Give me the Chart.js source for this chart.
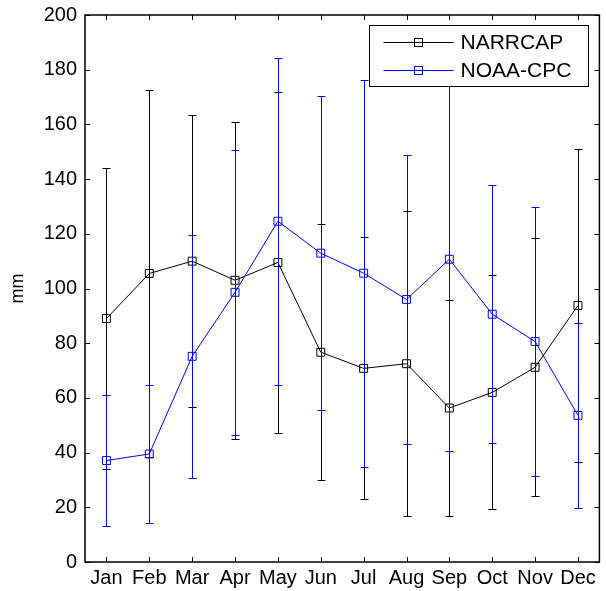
<!DOCTYPE html>
<html>
<head>
<meta charset="utf-8">
<script src="https://cdn.jsdelivr.net/npm/chart.js@4.4.0/dist/chart.umd.min.js"></script>
<style>
  html, body { margin: 0; padding: 0; background: #fff; }
  #wrap { width: 606px; height: 591px; }
</style>
</head>
<body>
<div id="wrap"><canvas id="chart" width="606" height="591"></canvas></div>
<script>
// ── Data ──────────────────────────────────────────────
const months = ['Jan', 'Feb', 'Mar', 'Apr', 'May', 'Jun', 'Jul', 'Aug', 'Sep', 'Oct', 'Nov', 'Dec'];

const narrcapMean = [89, 105.5, 110, 103, 109.5, 76.7, 70.8, 72.5, 56.3, 62, 71.2, 93.8];
const narrcapSd   = [55, 67, 53.3, 58, 62.3, 46.8, 47.9, 55.7, 39.6, 42.8, 47.2, 57.3];

const noaaMean = [37.1, 39.5, 75.2, 98.6, 124.6, 112.9, 105.6, 96, 110.7, 90.6, 80.6, 53.6];
const noaaSd   = [23.9, 25.3, 44.5, 52, 59.8, 57.4, 70.8, 52.8, 70.1, 47.2, 49.3, 33.9];

const yMin = 0, yMax = 200, yStep = 20;

Chart.defaults.font.family = "'Liberation Sans', Arial, sans-serif";
Chart.defaults.color = '#000';

// ── Axes box with inward ticks (MATLAB style) ─────────
const frameTicks = {
  id: 'frameTicks',
  beforeDatasetsDraw(chart) {
    const { ctx, chartArea: a, scales: { x, y } } = chart;
    const len = 5;
    ctx.save();
    ctx.strokeStyle = '#000';
    ctx.lineWidth = 1;
    ctx.beginPath();
    y.ticks.forEach(t => {
      const py = Math.round(y.getPixelForValue(t.value)) + 0.5;
      ctx.moveTo(a.left, py); ctx.lineTo(a.left + len, py);
      ctx.moveTo(a.right, py); ctx.lineTo(a.right - len, py);
    });
    months.forEach((_, i) => {
      const px = Math.round(x.getPixelForValue(i)) + 0.5;
      ctx.moveTo(px, a.bottom); ctx.lineTo(px, a.bottom - len);
      ctx.moveTo(px, a.top); ctx.lineTo(px, a.top + len);
    });
    ctx.stroke();
    ctx.lineWidth = 1.5;
    ctx.strokeRect(a.left, a.top, a.right - a.left, a.bottom - a.top);
    ctx.restore();
  },
};

// ── Error bars drawn after each dataset ───────────────
const errorBars = {
  id: 'errorBars',
  afterDatasetDraw(chart, args) {
    const ds = chart.data.datasets[args.index];
    if (!ds.errors) return;
    const { ctx } = chart;
    const y = chart.scales.y;
    const cap = 4;
    ctx.save();
    ctx.strokeStyle = ds.borderColor;
    ctx.lineWidth = 1;
    ctx.beginPath();
    args.meta.data.forEach((pt, i) => {
      const px = Math.round(pt.x) + 0.5;
      const top = Math.round(y.getPixelForValue(ds.data[i] + ds.errors[i])) + 0.5;
      const bot = Math.round(y.getPixelForValue(ds.data[i] - ds.errors[i])) + 0.5;
      ctx.moveTo(px, top); ctx.lineTo(px, bot);
      ctx.moveTo(px - cap, top); ctx.lineTo(px + cap, top);
      ctx.moveTo(px - cap, bot); ctx.lineTo(px + cap, bot);
    });
    ctx.stroke();
    ctx.restore();
  },
};

// ── Boxed legend in the top right corner ──────────────
const boxLegend = {
  id: 'boxLegend',
  afterDraw(chart) {
    const { ctx, chartArea: a } = chart;
    const w = 219, h = 61;
    const bx = Math.round(a.right - 11 - w) + 0.5;
    const by = Math.round(a.top + 10) + 0.5;
    ctx.save();
    ctx.fillStyle = '#fff';
    ctx.strokeStyle = '#000';
    ctx.lineWidth = 1;
    ctx.fillRect(bx, by, w, h);
    ctx.strokeRect(bx, by, w, h);
    ctx.font = "21px 'Liberation Sans', Arial, sans-serif";
    ctx.textBaseline = 'middle';
    chart.data.datasets.forEach((ds, i) => {
      const ry = Math.round(by + 16 + i * 28) + 0.5;
      ctx.strokeStyle = ds.borderColor;
      ctx.beginPath();
      ctx.moveTo(bx + 14, ry); ctx.lineTo(bx + 84, ry);
      ctx.stroke();
      ctx.strokeRect(bx + 45, ry - 4, 8, 8);
      ctx.fillStyle = '#000';
      ctx.fillText(ds.label, bx + 91, ry + 1);
    });
    ctx.restore();
  },
};

new Chart(document.getElementById('chart'), {
  type: 'line',
  data: {
    labels: months,
    datasets: [
      {
        label: 'NARRCAP',
        data: narrcapMean,
        errors: narrcapSd,
        borderColor: '#000000',
        borderWidth: 1,
        pointStyle: 'rect',
        pointRadius: 5.6,
        pointBorderWidth: 1,
        pointBackgroundColor: 'rgba(0,0,0,0)',
        pointBorderColor: '#000000',
        tension: 0,
        fill: false,
        order: 2,
      },
      {
        label: 'NOAA-CPC',
        data: noaaMean,
        errors: noaaSd,
        borderColor: '#0000ff',
        borderWidth: 1,
        pointStyle: 'rect',
        pointRadius: 5.6,
        pointBorderWidth: 1,
        pointBackgroundColor: 'rgba(0,0,0,0)',
        pointBorderColor: '#0000ff',
        tension: 0,
        fill: false,
        order: 1,
      },
    ],
  },
  options: {
    responsive: false,
    animation: false,
    events: [],
    layout: { padding: { top: 15, right: 3, left: 0, bottom: 0 } },
    plugins: { legend: { display: false }, tooltip: { enabled: false } },
    scales: {
      x: {
        type: 'category',
        offset: true,
        grid: { display: false, drawTicks: false },
        border: { display: false },
        ticks: { font: { size: 20 }, padding: 4, maxRotation: 0, autoSkip: false },
        afterFit(scale) {
          scale.height = 29;
          scale.paddingLeft = 0;
          scale.paddingRight = 0;
        },
      },
      y: {
        min: yMin,
        max: yMax,
        grid: { display: false, drawTicks: false },
        border: { display: false },
        ticks: { stepSize: yStep, font: { size: 20 }, padding: 8 },
        title: { display: true, text: 'mm', font: { size: 18 }, padding: { top: 7, bottom: 0 } },
        afterFit(scale) {
          scale.width = 85;
          scale.paddingTop = 0;
          scale.paddingBottom = 0;
        },
      },
    },
  },
  plugins: [frameTicks, errorBars, boxLegend],
});
</script>
</body>
</html>
